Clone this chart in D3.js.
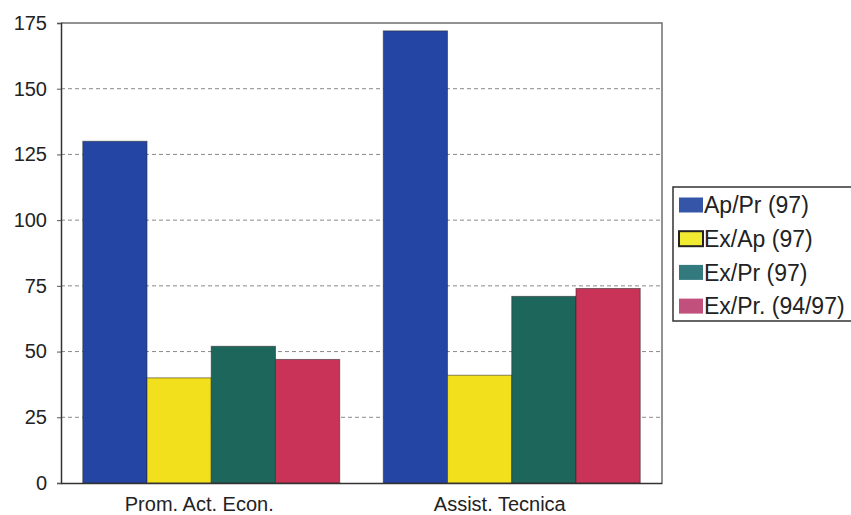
<!DOCTYPE html>
<html>
<head>
<meta charset="utf-8">
<script src="https://cdn.jsdelivr.net/npm/d3@7"></script>
<style>
  html, body { margin: 0; padding: 0; background: #fff; }
  svg { display: block; font-family: "Liberation Sans", Arial, sans-serif; }
</style>
</head>
<body>
<svg id="chart" width="851" height="515"></svg>
<script>
// Categories, series and values
const categories = ["Prom. Act. Econ.", "Assist. Tecnica"];
const seriesNames = ["Ap/Pr (97)", "Ex/Ap (97)", "Ex/Pr (97)", "Ex/Pr. (94/97)"];
const apPr97   = [130, 172];
const exAp97   = [40, 41];
const exPr97   = [52, 71];
const exPr9497 = [47, 74];
const yTicks = [0, 25, 50, 75, 100, 125, 150, 175];

const seriesValues = [apPr97, exAp97, exPr97, exPr9497];
const barColors    = ["#2545a4", "#f3e01c", "#1c665c", "#c93358"];
const swatchColors = ["#3556a8", "#f0ea30", "#337a7e", "#c2507c"];

const svg = d3.select("#chart");
const plot = { left: 61, right: 662, top: 23, bottom: 483 };

const x0 = d3.scaleBand()
  .domain(categories)
  .range([plot.left, plot.right])
  .paddingInner(0.145)
  .paddingOuter(0.0725);

const x1 = d3.scaleBand()
  .domain(d3.range(seriesNames.length))
  .range([0, x0.bandwidth()]);

const y = d3.scaleLinear().domain([0, 175]).range([plot.bottom, plot.top]);

// Dashed gridlines
svg.append("g")
  .selectAll("line")
  .data(yTicks.filter(t => t > 0 && t < 175))
  .join("line")
  .attr("x1", plot.left).attr("x2", plot.right)
  .attr("y1", d => y(d)).attr("y2", d => y(d))
  .attr("stroke", "#8a8a8a")
  .attr("stroke-width", 1)
  .attr("stroke-dasharray", "4,3");

// Plot frame (top and right)
svg.append("path")
  .attr("d", `M${plot.left},${plot.top}H${plot.right}V${plot.bottom}`)
  .attr("fill", "none")
  .attr("stroke", "#6f6f6f")
  .attr("stroke-width", 1.5);

// Bars
const groups = svg.append("g")
  .selectAll("g")
  .data(categories)
  .join("g")
  .attr("transform", d => `translate(${x0(d)},0)`);

groups.selectAll("rect")
  .data((c, ci) => seriesValues.map((vals, si) => ({ si, v: vals[ci] })))
  .join("rect")
  .attr("x", d => x1(d.si))
  .attr("width", x1.bandwidth())
  .attr("y", d => y(d.v))
  .attr("height", d => y(0) - y(d.v))
  .attr("fill", d => barColors[d.si])
  .attr("stroke", "rgba(40,40,40,0.55)")
  .attr("stroke-width", 1);

// Y axis
const yAxis = d3.axisLeft(y).tickValues(yTicks).tickSize(4).tickPadding(10);
const gy = svg.append("g")
  .attr("transform", `translate(${plot.left},0)`)
  .call(yAxis);
gy.select(".domain").attr("stroke", "#333").attr("stroke-width", 1.5);
gy.selectAll(".tick line").attr("stroke", "#555");
gy.selectAll(".tick text")
  .attr("font-size", 20)
  .attr("fill", "#222")
  .attr("font-family", "'Liberation Sans', Arial, sans-serif");

// X axis
const xAxis = d3.axisBottom(x0).tickSize(0).tickPadding(14);
const gx = svg.append("g")
  .attr("transform", `translate(0,${plot.bottom})`)
  .call(xAxis);
gx.select(".domain").attr("stroke", "#333").attr("stroke-width", 1.5);
gx.selectAll(".tick text")
  .attr("font-size", 20)
  .attr("dx", -12)
  .attr("fill", "#222")
  .attr("font-family", "'Liberation Sans', Arial, sans-serif");

// Legend
const legend = svg.append("g").attr("transform", "translate(673,187)");
legend.append("rect")
  .attr("x", 0).attr("y", 0)
  .attr("width", 180).attr("height", 134)
  .attr("fill", "#fff")
  .attr("stroke", "#333")
  .attr("stroke-width", 1.5);

const items = legend.selectAll("g.item")
  .data(seriesNames)
  .join("g")
  .attr("class", "item")
  .attr("transform", (d, i) => `translate(6,${18 + i * 33.7})`);

items.append("rect")
  .attr("x", 0).attr("y", -7.5)
  .attr("width", 24).attr("height", 15)
  .attr("fill", (d, i) => swatchColors[i])
  .attr("stroke", (d, i) => i === 1 ? "#222" : "none")
  .attr("stroke-width", 2);

items.append("text")
  .attr("x", 25)
  .attr("y", 0)
  .attr("dy", "0.36em")
  .attr("font-size", 23)
  .attr("fill", "#222")
  .text(d => d);
</script>
</body>
</html>
